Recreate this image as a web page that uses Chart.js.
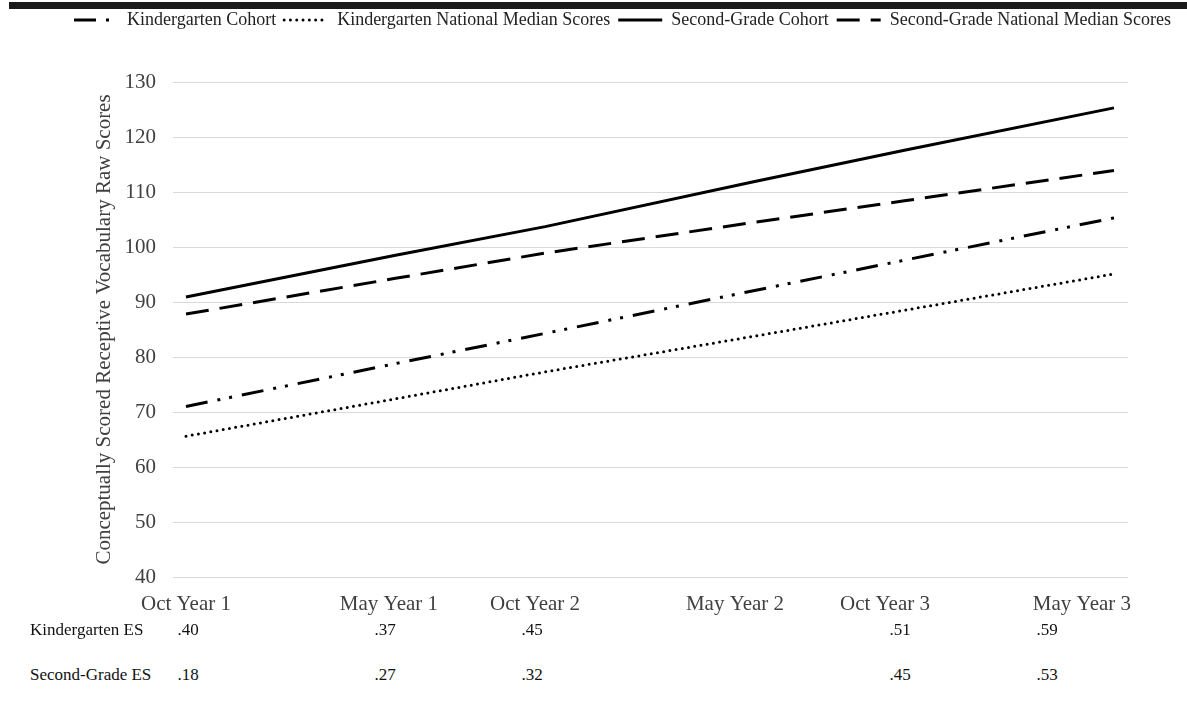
<!DOCTYPE html>
<html>
<head>
<meta charset="utf-8">
<script src="https://cdn.jsdelivr.net/npm/chart.js@4.4.1/dist/chart.umd.min.js"></script>
<style>
  html, body {
    margin: 0;
    padding: 0;
    background: #fff;
  }
  #page {
    position: relative;
    width: 1187px;
    height: 710px;
    overflow: hidden;
    font-family: "Liberation Serif", "Times New Roman", serif;
  }
  #topBar {
    position: absolute;
    top: 2px;
    left: 9px;
    right: 0;
    height: 7px;
    background: #1a1a1a;
  }
  #chartBox {
    position: absolute;
    top: 0;
    left: 0;
    width: 1187px;
    height: 625px;
  }
  .es-cell {
    position: absolute;
    font-size: 17px;
    color: #111;
    white-space: nowrap;
    transform: translate(-50%, -50%);
  }
  .es-label {
    position: absolute;
    font-size: 17px;
    color: #111;
    white-space: nowrap;
    transform: translateY(-50%);
  }
</style>
</head>
<body>
<div id="page">
  <div id="chartBox"><canvas id="scoreChart"></canvas></div>
  <div id="topBar"></div>
  <div id="esTable"></div>
</div>
<script>
  // ---------------------------
  // Data
  // ---------------------------

  // months since Oct Year 1
  const months = [0, 7, 12, 19, 24, 31];

  const kCohort = [71.0, 78.8, 84.3, 92.1, 97.6, 105.3];
  const kNational = [65.6, 72.4, 77.3, 83.8, 88.5, 95.1];
  const sgCohort = [90.9, 98.5, 103.7, 111.9, 117.6, 125.3];
  const sgNational = [87.8, 94.3, 98.9, 104.5, 108.4, 113.9];

  const xTickPos = [0, 6.78, 11.66, 18.34, 23.35, 29.93];
  const xTickLabels = ["Oct Year 1", "May Year 1", "Oct Year 2", "May Year 2", "Oct Year 3", "May Year 3"];

  const esRowLabels = ["Kindergarten ES", "Second-Grade ES"];
  const kES = [".40", ".37", ".45", "", ".51", ".59"];
  const sgES = [".18", ".27", ".32", "", ".45", ".53"];

  // ---------------------------
  // ES table (below the chart)
  // ---------------------------

  const esColX = [188, 385, 532, 735, 900, 1047];
  const esRowY = [630, 675];

  function buildTable() {
    const box = document.getElementById("esTable");
    [kES, sgES].forEach((row, r) => {
      const lab = document.createElement("div");
      lab.className = "es-label";
      lab.style.left = "30px";
      lab.style.top = esRowY[r] + "px";
      lab.textContent = esRowLabels[r];
      box.appendChild(lab);

      row.forEach((val, c) => {
        if (!val) return;
        const cell = document.createElement("div");
        cell.className = "es-cell";
        cell.style.left = esColX[c] + "px";
        cell.style.top = esRowY[r] + "px";
        cell.textContent = val;
        box.appendChild(cell);
      });
    });
  }

  // ---------------------------
  // Chart
  // ---------------------------

  function toPoints(values) {
    return values.map((v, i) => ({ x: months[i], y: v }));
  }

  // extra room between legend and plot
  const legendGap = {
    id: "legendGap",
    beforeInit(chart) {
      const fit = chart.legend.fit;
      chart.legend.fit = function () {
        fit.bind(chart.legend)();
        this.height += 43;
      };
    }
  };

  const serif = "'Liberation Serif', 'Times New Roman', serif";

  function initChart() {
    const ctx = document.getElementById("scoreChart").getContext("2d");

    new Chart(ctx, {
      type: "line",
      data: {
        datasets: [
          {
            label: "Kindergarten Cohort",
            data: toPoints(kCohort),
            borderColor: "#000",
            borderWidth: 3,
            borderDash: [22, 10, 3, 9, 3, 10],
            tension: 0,
            pointRadius: 0
          },
          {
            label: "Kindergarten National Median Scores",
            data: toPoints(kNational),
            borderColor: "#000",
            borderWidth: 3,
            borderDash: [0, 6.3],
            borderCapStyle: "round",
            tension: 0,
            pointRadius: 0
          },
          {
            label: "Second-Grade Cohort",
            data: toPoints(sgCohort),
            borderColor: "#000",
            borderWidth: 3,
            tension: 0,
            pointRadius: 0
          },
          {
            label: "Second-Grade National Median Scores",
            data: toPoints(sgNational),
            borderColor: "#000",
            borderWidth: 3,
            borderDash: [23, 11],
            tension: 0,
            pointRadius: 0
          }
        ]
      },
      options: {
        responsive: true,
        maintainAspectRatio: false,
        animation: false,
        layout: {
          padding: { left: 66, right: 0, top: 3, bottom: 0 }
        },
        plugins: {
          tooltip: { enabled: false },
          legend: {
            position: "top",
            align: "start",
            labels: {
              usePointStyle: true,
              pointStyle: "line",
              pointStyleWidth: 44,
              padding: 8,
              color: "#222",
              font: { family: serif, size: 18 },
              generateLabels(chart) {
                const items = Chart.defaults.plugins.legend.labels.generateLabels(chart);
                items.forEach((it, i) => {
                  const ds = chart.data.datasets[i];
                  it.lineDash = ds.borderDash || [];
                  it.lineCap = ds.borderCapStyle || "butt";
                  it.lineWidth = 3;
                  it.strokeStyle = "#000";
                });
                return items;
              }
            }
          }
        },
        scales: {
          x: {
            type: "linear",
            min: -0.434,
            max: 31.468,
            grid: { display: false },
            border: { display: false },
            afterBuildTicks(scale) {
              scale.ticks = xTickPos.map(v => ({ value: v }));
            },
            afterFit(scale) {
              scale.height = 48;
            },
            ticks: {
              autoSkip: false,
              maxRotation: 0,
              padding: 7,
              color: "#404040",
              font: { family: serif, size: 21 },
              callback: (v, i) => xTickLabels[i]
            }
          },
          y: {
            min: 40,
            max: 130,
            grid: { color: "#d9d9d9", lineWidth: 1, drawTicks: false },
            border: { display: false },
            afterFit(scale) {
              scale.width = 107;
            },
            ticks: {
              stepSize: 10,
              padding: 17,
              color: "#404040",
              font: { family: serif, size: 21 }
            },
            title: {
              display: true,
              text: "Conceptually Scored Receptive Vocabulary Raw Scores",
              color: "#404040",
              font: { family: serif, size: 21 },
              padding: { top: 26, bottom: 0 }
            }
          },
          // empty right-hand spacer so the plot stops where the original does
          yRight: {
            position: "right",
            min: 40,
            max: 130,
            grid: { display: false },
            border: { display: false },
            ticks: { display: false },
            afterFit(scale) {
              scale.width = 59;
            }
          }
        }
      },
      plugins: [legendGap]
    });
  }

  buildTable();
  initChart();
</script>
</body>
</html>
